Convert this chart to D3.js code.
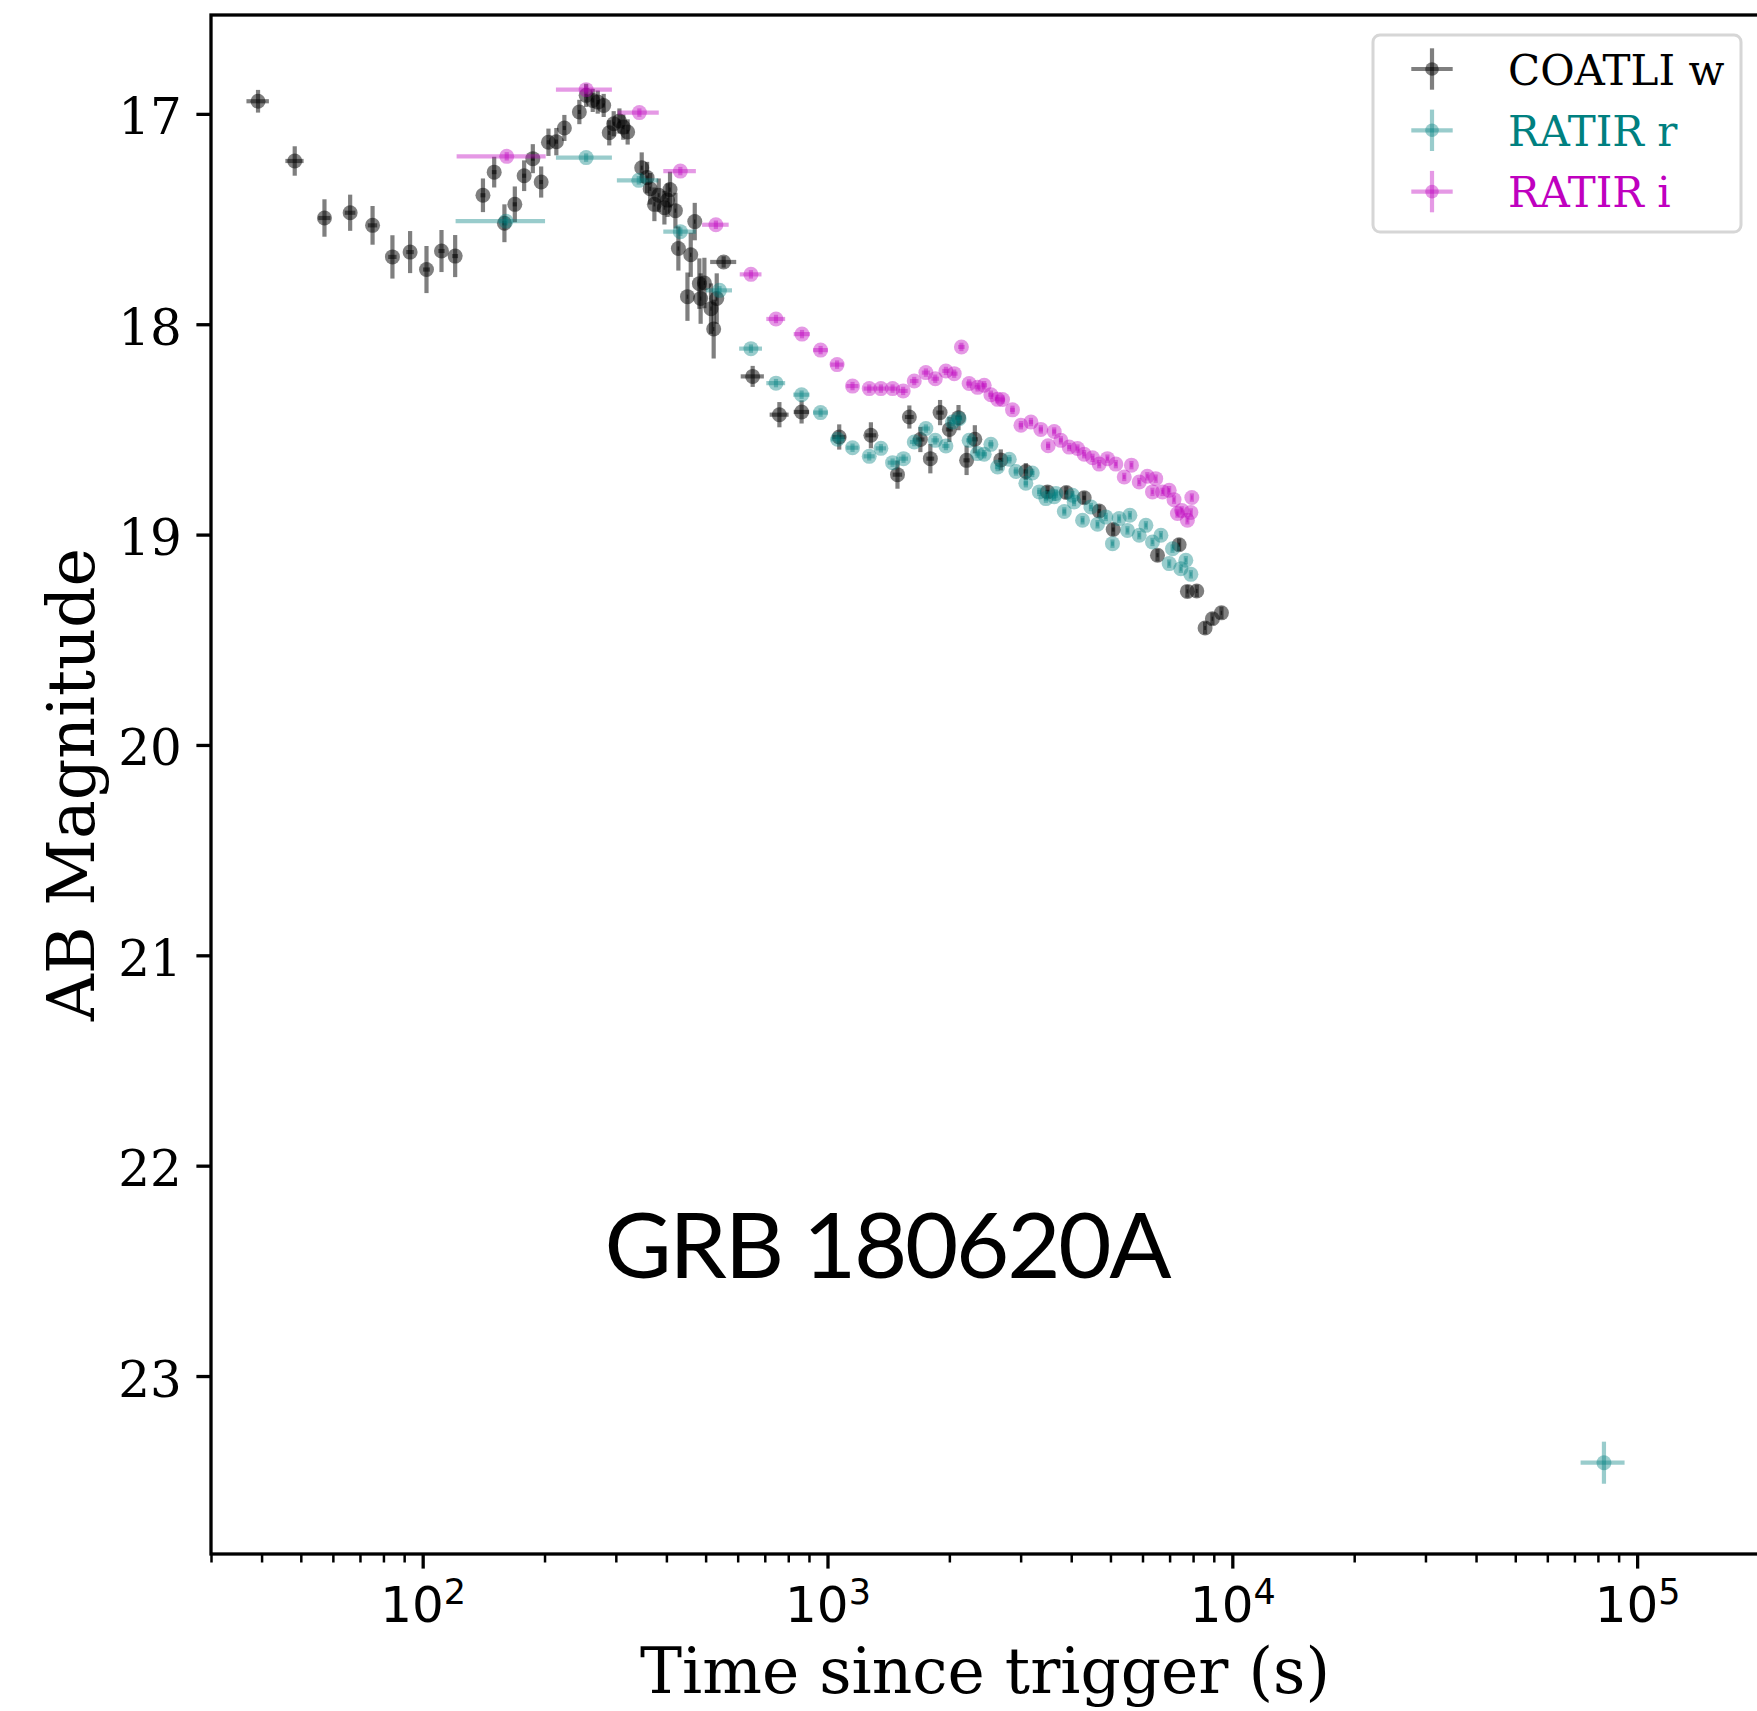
<!DOCTYPE html>
<html>
<head>
<meta charset="utf-8">
<script src="https://cdn.jsdelivr.net/npm/d3@7"></script>
<style>
  body { margin: 0; background: #fff; }
  svg { display: block; }
  .tick text { fill: #000; }
</style>
</head>
<body>
<div id="chart"></div>
<script>
  // COATLI w
  var coatliTime = [39.2, 48.3, 57.2, 66.2, 75.2, 84.2, 93.1, 102.2, 111.3, 120.3,
    140.9, 150.2, 159.2, 168.9, 178.1, 187.1, 196.2, 204.5, 213.9, 223.9,
    243.8, 253.4, 263.1, 270.7, 280, 289, 296.4, 306.2, 313, 320.9,
    347.6, 358.4, 364.7, 373.6, 382.9, 395.5, 402.7, 408.3, 421, 428.2,
    450.9, 459.4, 470, 482.5, 486, 496.5, 515.5, 523.4, 532.6, 554,
    653.4, 760.6, 863, 1069, 1280, 1489, 1593, 1696, 1795, 1897,
    2000, 2107, 2206, 2312, 2680, 3090, 3495, 3890, 4306, 4690,
    5079, 6534, 7390, 7745, 8170, 8565, 8930, 9400];
  var coatliMag = [16.94, 17.224, 17.495, 17.47, 17.53, 17.68, 17.657, 17.74, 17.652, 17.676,
    17.387, 17.277, 17.52, 17.43, 17.294, 17.213, 17.324, 17.135, 17.132, 17.067,
    16.991, 16.912, 16.936, 16.944, 16.96, 17.09, 17.047, 17.034, 17.063, 17.086,
    17.256, 17.303, 17.356, 17.43, 17.387, 17.446, 17.41, 17.36, 17.46, 17.64,
    17.869, 17.67, 17.512, 17.807, 17.878, 17.804, 17.926, 18.023, 17.878, 17.704,
    18.248, 18.43, 18.417, 18.536, 18.528, 18.715, 18.441, 18.548, 18.639, 18.42,
    18.50, 18.444, 18.647, 18.547, 18.645, 18.70, 18.797, 18.80, 18.825, 18.888,
    18.976, 19.098, 19.048, 19.27, 19.268, 19.444, 19.40, 19.372];
  var coatliMagErr = [0.054, 0.07, 0.089, 0.086, 0.092, 0.103, 0.10, 0.112, 0.10, 0.10,
    0.08, 0.073, 0.09, 0.085, 0.073, 0.069, 0.074, 0.065, 0.065, 0.062,
    0.058, 0.055, 0.055, 0.055, 0.055, 0.06, 0.06, 0.06, 0.06, 0.06,
    0.073, 0.075, 0.075, 0.08, 0.08, 0.08, 0.08, 0.085, 0.085, 0.105,
    0.115, 0.105, 0.089, 0.12, 0.12, 0.12, 0.12, 0.14, 0.12, 0.027,
    0.05, 0.06, 0.055, 0.06, 0.062, 0.067, 0.055, 0.06, 0.07, 0.06,
    0.06, 0.06, 0.07, 0.067, 0.05, 0.04, 0.03, 0.03, 0.03, 0.03,
    0.03, 0.03, 0.03, 0.03, 0.03, 0.03, 0.03, 0.03];
  var coatliTimeErr = [2.5, 2.5, 2, 2, 2, 2, 2, 2, 2, 2,
    2, 2, 2, 2, 2, 2, 2, 2, 2, 2,
    2, 2, 2, 2, 2, 2, 2, 2, 2, 2,
    2, 2, 2, 2, 2, 2, 2, 2, 2, 2,
    2, 2, 2, 2, 2, 2, 2, 2, 2, 41,
    43, 41, 38, 40, 40, 40, 40, 40, 40, 40,
    40, 40, 40, 40, 40, 40, 40, 40, 40, 40,
    40, 40, 40, 40, 40, 40, 40, 40];

  // RATIR r
  var ratirRTime = [160.6, 253.4, 341.8, 433, 541, 647, 746, 863, 961.5, 1059,
    1153, 1268, 1355, 1448, 1541, 1638, 1750, 1846, 1961, 2036,
    2114, 2238, 2348, 2438, 2533, 2631, 2812, 2921, 3090, 3205,
    3336, 3463, 3631, 3667, 3846, 4030, 4066, 4266, 4474, 4645,
    4870, 5058, 5253, 5508, 5584, 5889, 6117, 6350, 6662, 6983,
    7116, 7461, 7676, 7900, 82800];
  var ratirRMag = [17.51, 17.208, 17.316, 17.56, 17.839, 18.116, 18.28, 18.335, 18.42, 18.547,
    18.587, 18.628, 18.59, 18.658, 18.639, 18.56, 18.496, 18.552, 18.579, 18.465,
    18.449, 18.552, 18.615, 18.618, 18.571, 18.679, 18.642, 18.70, 18.756, 18.707,
    18.797, 18.829, 18.82, 18.805, 18.89, 18.813, 18.845, 18.932, 18.869, 18.951,
    18.916, 19.043, 18.924, 18.98, 18.908, 19.003, 18.956, 19.035, 19.003, 19.138,
    19.067, 19.162, 19.122, 19.189, 23.412];
  var ratirRMagErr = [0.02, 0.02, 0.02, 0.02, 0.02, 0.02, 0.02, 0.02, 0.02, 0.02,
    0.02, 0.02, 0.02, 0.02, 0.02, 0.02, 0.02, 0.02, 0.02, 0.02,
    0.02, 0.02, 0.02, 0.02, 0.02, 0.02, 0.02, 0.02, 0.02, 0.02,
    0.02, 0.02, 0.02, 0.02, 0.02, 0.02, 0.02, 0.02, 0.02, 0.02,
    0.02, 0.02, 0.02, 0.02, 0.02, 0.02, 0.02, 0.02, 0.02, 0.02,
    0.02, 0.02, 0.02, 0.02, 0.10];
  var ratirRTimeErr = [40, 40, 40, 40, 40, 42, 40, 40, 40, 40,
    40, 40, 40, 40, 40, 40, 40, 40, 40, 40,
    40, 40, 40, 40, 40, 40, 40, 40, 40, 40,
    40, 40, 40, 40, 40, 40, 40, 40, 40, 40,
    40, 40, 40, 40, 40, 40, 40, 40, 40, 40,
    40, 40, 40, 40, 10300];

  // RATIR i
  var ratirITime = [161.3, 253.4, 343, 433, 530, 647, 746, 865, 961.5, 1056,
    1153, 1268, 1355, 1448, 1538, 1638, 1750, 1846, 1961, 2056,
    2142, 2238, 2348, 2438, 2533, 2631, 2706, 2864, 3005, 3181,
    3365, 3508, 3631, 3771, 3954, 4146, 4306, 4516, 4690, 4915,
    5155, 5408, 5634, 5889, 6167, 6350, 6468, 6722, 6983, 7178,
    7318, 7500, 7745, 7900, 7943];
  var ratirIMag = [17.202, 16.885, 16.994, 17.272, 17.527, 17.763, 17.975, 18.047, 18.123, 18.192,
    18.294, 18.306, 18.306, 18.306, 18.317, 18.27, 18.23, 18.259, 18.222, 18.235,
    18.108, 18.282, 18.30, 18.29, 18.335, 18.357, 18.358, 18.407, 18.48, 18.465,
    18.50, 18.578, 18.51, 18.552, 18.584, 18.591, 18.618, 18.635, 18.665, 18.639,
    18.665, 18.726, 18.67, 18.75, 18.723, 18.797, 18.734, 18.797, 18.789, 18.834,
    18.90, 18.885, 18.932, 18.895, 18.824];
  var ratirIMagErr = ratirITime.map(function() { return 0.02; });
  var ratirITimeErr = ratirITime.map(function() { return 40; });

  var yTicks = [17, 18, 19, 20, 21, 22, 23];
  var xTicks = [1e2, 1e3, 1e4, 1e5];
  var xTickExp = ["2", "3", "4", "5"];

  var series = [
    {label: "COATLI w", color: "#000000", text: "#000000", alpha: 0.5,
     t: coatliTime, m: coatliMag, dm: coatliMagErr, dt: coatliTimeErr},
    {label: "RATIR r", color: "#008080", text: "#008080", alpha: 0.4,
     t: ratirRTime, m: ratirRMag, dm: ratirRMagErr, dt: ratirRTimeErr},
    {label: "RATIR i", color: "#bf00bf", text: "#bf00bf", alpha: 0.4,
     t: ratirITime, m: ratirIMag, dm: ratirIMagErr, dt: ratirITimeErr}
  ];

  var width = 1757,
      height = 1711,
      axLeft = 211, axRight = 1759, axTop = 15, axBottom = 1554,
      dotR = 7.5;

  var svg = d3.select("#chart")
      .append("svg")
      .attr("width", width)
      .attr("height", height);

  var x = d3.scaleLog().domain([30, 2e5]).range([axLeft, axRight]);
  var y = d3.scaleLinear().domain([16.53, 23.846]).range([axTop, axBottom]);

  // minor ticks on x
  var minor = [];
  [10, 100, 1000, 1e4, 1e5].forEach(function(d) {
    for (var k = 2; k <= 9; k++) {
      if (d * k >= 30 && d * k <= 2e5) minor.push(d * k);
    }
  });

  svg.append("g")
      .attr("transform", "translate(0," + axBottom + ")")
      .call(d3.axisBottom(x).tickValues(minor).tickSize(8.5).tickFormat(""))
      .call(function(g) { g.select(".domain").remove(); })
      .selectAll("line").attr("stroke", "#000").attr("stroke-width", 2.5);

  var gx = svg.append("g")
      .attr("transform", "translate(0," + axBottom + ")")
      .call(d3.axisBottom(x).tickValues(xTicks).tickSize(14.6).tickFormat(""));
  gx.select(".domain").remove();
  gx.selectAll("line").attr("stroke", "#000").attr("stroke-width", 3.3);
  gx.selectAll(".tick").append("text")
      .attr("y", 68)
      .attr("text-anchor", "middle")
      .attr("font-family", "DejaVu Sans")
      .attr("font-size", 50)
      .each(function(d, i) {
        var t = d3.select(this);
        t.append("tspan").text("10");
        t.append("tspan").attr("dy", -18.5).attr("font-size", 35).text(xTickExp[i]);
      });

  var gy = svg.append("g")
      .attr("transform", "translate(" + axLeft + ",0)")
      .call(d3.axisLeft(y).tickValues(yTicks).tickSize(14.6).tickPadding(14.6)
        .tickFormat(d3.format("d")));
  gy.select(".domain").remove();
  gy.selectAll("line").attr("stroke", "#000").attr("stroke-width", 3.3);
  gy.selectAll("text")
      .attr("dy", 20)
      .attr("font-family", "DejaVu Serif")
      .attr("font-size", 50);

  // spines (right one falls just outside the picture)
  svg.append("rect")
      .attr("x", axLeft).attr("y", axTop)
      .attr("width", axRight - axLeft).attr("height", axBottom - axTop)
      .attr("fill", "none")
      .attr("stroke", "#000")
      .attr("stroke-width", 3.3);

  // data
  series.forEach(function(s) {
    var g = svg.append("g");
    var idx = d3.range(s.t.length);
    g.selectAll(".xerr")
      .data(idx)
    .enter().append("line")
      .attr("x1", function(i) { return x(s.t[i] - s.dt[i]); })
      .attr("x2", function(i) { return x(s.t[i] + s.dt[i]); })
      .attr("y1", function(i) { return y(s.m[i]); })
      .attr("y2", function(i) { return y(s.m[i]); })
      .attr("stroke", s.color).attr("stroke-opacity", s.alpha).attr("stroke-width", 4.2);
    g.selectAll(".yerr")
      .data(idx)
    .enter().append("line")
      .attr("x1", function(i) { return x(s.t[i]); })
      .attr("x2", function(i) { return x(s.t[i]); })
      .attr("y1", function(i) { return y(s.m[i] - s.dm[i]); })
      .attr("y2", function(i) { return y(s.m[i] + s.dm[i]); })
      .attr("stroke", s.color).attr("stroke-opacity", s.alpha).attr("stroke-width", 4.2);
    g.selectAll("circle")
      .data(idx)
    .enter().append("circle")
      .attr("cx", function(i) { return x(s.t[i]); })
      .attr("cy", function(i) { return y(s.m[i]); })
      .attr("r", dotR)
      .attr("fill", s.color).attr("fill-opacity", s.alpha);
  });

  // axis labels
  svg.append("text")
      .attr("x", (axLeft + axRight) / 2)
      .attr("y", 1693)
      .attr("text-anchor", "middle")
      .attr("font-family", "DejaVu Serif")
      .attr("font-size", 63)
      .text("Time since trigger (s)");

  svg.append("text")
      .attr("transform", "translate(94," + ((axTop + axBottom) / 2) + ") rotate(-90)")
      .attr("text-anchor", "middle")
      .attr("font-family", "DejaVu Serif")
      .attr("font-size", 65)
      .text("AB Magnitude");

  svg.append("text")
      .attr("x", 888)
      .attr("y", 1278)
      .attr("text-anchor", "middle")
      .attr("font-family", "Lato")
      .attr("font-size", 92)
      .attr("textLength", 567)
      .attr("lengthAdjust", "spacing")
      .text("GRB 180620A");

  // legend
  var legend = svg.append("g");
  legend.append("rect")
      .attr("x", 1373).attr("y", 35)
      .attr("width", 368).attr("height", 197)
      .attr("rx", 7)
      .attr("fill", "#fff").attr("fill-opacity", 0.8)
      .attr("stroke", "#d6d6d6").attr("stroke-width", 3);

  var items = legend.selectAll(".item")
      .data(series)
    .enter().append("g")
      .attr("transform", function(d, i) { return "translate(1432," + (69 + i * 61.3) + ")"; });
  items.append("line")
      .attr("x1", -20.7).attr("x2", 20.7)
      .attr("stroke", function(d) { return d.color; })
      .attr("stroke-opacity", function(d) { return d.alpha; })
      .attr("stroke-width", 4.2);
  items.append("line")
      .attr("y1", -20.7).attr("y2", 20.7)
      .attr("stroke", function(d) { return d.color; })
      .attr("stroke-opacity", function(d) { return d.alpha; })
      .attr("stroke-width", 4.2);
  items.append("circle")
      .attr("r", 6.8)
      .attr("fill", function(d) { return d.color; })
      .attr("fill-opacity", function(d) { return d.alpha; });
  items.append("text")
      .attr("x", 76)
      .attr("y", 15.7)
      .attr("font-family", "DejaVu Serif")
      .attr("font-size", 42)
      .attr("fill", function(d) { return d.text; })
      .text(function(d) { return d.label; });
</script>
</body>
</html>
